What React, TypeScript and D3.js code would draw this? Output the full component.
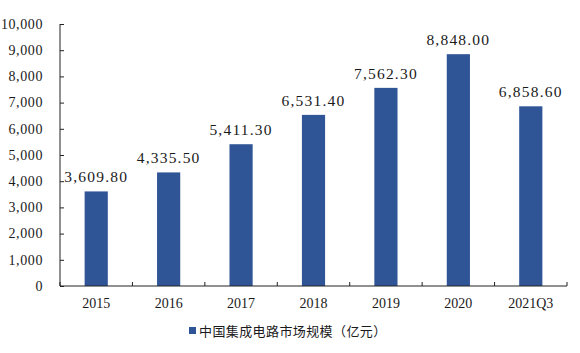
import React, { useEffect, useRef } from "react";
import * as d3 from "d3";

const years = ["2015", "2016", "2017", "2018", "2019", "2020", "2021Q3"];
const marketSize = [3609.8, 4335.5, 5411.3, 6531.4, 7562.3, 8848.0, 6858.6];
const yTicks = [0, 1000, 2000, 3000, 4000, 5000, 6000, 7000, 8000, 9000, 10000];
const legendLabel = "中国集成电路市场规模（亿元）";

const BAR_COLOR = "#2F5597";
const NUM_FONT = "'Liberation Serif', 'DejaVu Serif', serif";
const CJK_FONT = "'Noto Sans CJK SC', sans-serif";

const App = () => {
  const ref = useRef<SVGSVGElement>(null);

  useEffect(() => {
    const width = 580;
    const height = 353;
    const margin = { top: 24, right: 13, bottom: 67, left: 60 };

    const svg = d3.select(ref.current);
    svg.selectAll("*").remove();

    const x = d3.scaleBand()
      .domain(years)
      .range([margin.left, width - margin.right])
      .paddingInner(0.68)
      .paddingOuter(0.34);

    // spacing of the category boundary ticks
    const step = (width - margin.right - margin.left) / years.length;

    const y = d3.scaleLinear()
      .domain([0, 10000])
      .range([height - margin.bottom, margin.top]);

    // bars
    svg.append("g")
      .attr("fill", BAR_COLOR)
      .selectAll("rect")
      .data(marketSize)
      .enter().append("rect")
      .attr("x", (d, i) => x(years[i])!)
      .attr("y", d => y(d))
      .attr("width", x.bandwidth())
      .attr("height", d => y(0) - y(d));

    // value labels
    svg.append("g")
      .selectAll("text")
      .data(marketSize)
      .enter().append("text")
      .attr("x", (d, i) => x(years[i])! + x.bandwidth() / 2)
      .attr("y", d => y(d) - 9)
      .attr("text-anchor", "middle")
      .style("font-family", NUM_FONT)
      .style("font-size", "15.5px")
      .style("letter-spacing", "1.2px")
      .attr("fill", "#1a1a1a")
      .text(d => d3.format(",.2f")(d));

    // y axis
    const yAxis = svg.append("g")
      .attr("transform", `translate(${margin.left},0)`)
      .call(d3.axisRight(y).tickValues(yTicks).tickSize(4).tickFormat(() => ""));
    yAxis.select(".domain").attr("stroke", "#222").attr("d", `M0,${y(10000)}V${y(0)}`);
    yAxis.selectAll(".tick line").attr("stroke", "#222");

    svg.append("g")
      .selectAll("text")
      .data(yTicks)
      .enter().append("text")
      .attr("x", 43)
      .attr("y", d => y(d) + 4.8)
      .attr("text-anchor", "end")
      .style("font-family", NUM_FONT)
      .style("font-size", "14px")
      .style("letter-spacing", "0.6px")
      .attr("fill", "#1a1a1a")
      .text(d => d3.format(",")(d));

    // x axis
    const x0 = y(0);
    svg.append("line")
      .attr("x1", margin.left).attr("x2", width - margin.right)
      .attr("y1", x0).attr("y2", x0)
      .attr("stroke", "#222");
    svg.append("g")
      .selectAll("line")
      .data(d3.range(years.length + 1))
      .enter().append("line")
      .attr("x1", i => margin.left + i * step)
      .attr("x2", i => margin.left + i * step)
      .attr("y1", x0).attr("y2", x0 - 4)
      .attr("stroke", "#222");

    svg.append("g")
      .selectAll("text")
      .data(years)
      .enter().append("text")
      .attr("x", d => x(d)! + x.bandwidth() / 2)
      .attr("y", x0 + 22)
      .attr("text-anchor", "middle")
      .style("font-family", NUM_FONT)
      .style("font-size", "14px")
      .attr("fill", "#1a1a1a")
      .text(d => d);

    // legend
    const legend = svg.append("g").attr("transform", "translate(189,331)");
    legend.append("rect")
      .attr("x", 0).attr("y", -4).attr("width", 7).attr("height", 7)
      .attr("fill", BAR_COLOR);
    legend.append("text")
      .attr("x", 10).attr("y", 4.5)
      .style("font-family", CJK_FONT)
      .style("font-size", "13px")
      .style("letter-spacing", "0.4px")
      .attr("fill", "#1a1a1a")
      .text(legendLabel);
  }, []);

  return (
    <svg ref={ref} width={580} height={353}
      style={{ position: "absolute", left: 0, top: 0, background: "#fff" }} />
  );
};

export default App;
